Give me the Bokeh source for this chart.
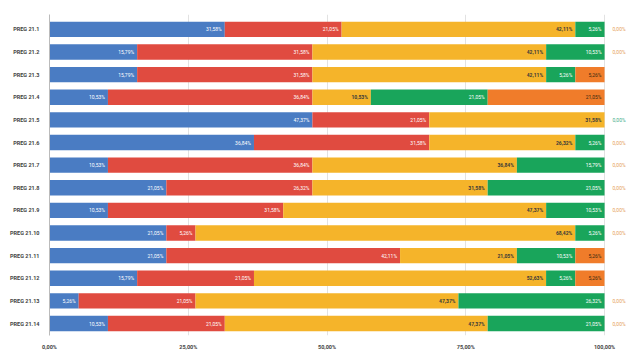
from bokeh.plotting import figure
from bokeh.models import Range1d, FixedTicker, ColumnDataSource
from bokeh.core.properties import value
from bokeh.embed import file_html
from bokeh.resources import INLINE

categories = ["PREG 21.1", "PREG 21.2", "PREG 21.3", "PREG 21.4", "PREG 21.5", "PREG 21.6", "PREG 21.7",
              "PREG 21.8", "PREG 21.9", "PREG 21.10", "PREG 21.11", "PREG 21.12", "PREG 21.13", "PREG 21.14"]
s_blue   = [31.58, 15.79, 15.79, 10.53, 47.37, 36.84, 10.53, 21.05, 10.53, 21.05, 21.05, 15.79, 5.26, 10.53]
s_red    = [21.05, 31.58, 31.58, 36.84, 21.05, 31.58, 36.84, 26.32, 31.58, 5.26, 42.11, 21.05, 21.05, 21.05]
s_yellow = [42.11, 42.11, 42.11, 10.53, 31.58, 26.32, 36.84, 31.58, 47.37, 68.42, 21.05, 52.63, 47.37, 47.37]
s_green  = [5.26, 10.53, 5.26, 21.05, 0.00, 5.26, 15.79, 21.05, 10.53, 5.26, 10.53, 5.26, 26.32, 21.05]
s_orange = [0.00, 0.00, 5.26, 21.05, 0.00, 0.00, 0.00, 0.00, 0.00, 0.00, 5.26, 5.26, 0.00, 0.00]
x_ticks = [0, 25, 50, 75, 100]
x_tick_labels = ["0,00%", "25,00%", "50,00%", "75,00%", "100,00%"]

series = [s_blue, s_red, s_yellow, s_green, s_orange]
colors = ["#4A7CC3", "#E04B40", "#F5B42A", "#19A55B", "#F07C2A"]
text_colors = ["#ffffff", "#ffffff", "#3a3a3a", "#ffffff", "#3a2a10"]

def fmt(v):
    return ("%.2f" % v).replace(".", ",") + "%"

p = figure(width=640, height=353, output_backend="svg", toolbar_location=None,
           x_range=Range1d(0, 105.76), y_range=Range1d(13.53, -0.66),
           min_border_left=49, min_border_right=4, min_border_top=14, min_border_bottom=18)
p.outline_line_color = None
p.background_fill_color = "white"
p.border_fill_color = "white"

ys = list(range(len(categories)))
left = [0.0] * len(categories)
for si, (vals, col) in enumerate(zip(series, colors)):
    right = [l + v for l, v in zip(left, vals)]
    src = ColumnDataSource(dict(y=ys, left=left, right=right))
    p.hbar(y="y", left="left", right="right", height=0.68, color=col, line_color=None, source=src)
    lx, ly, lt = [], [], []
    for i, v in enumerate(vals):
        if v > 0:
            lx.append(right[i]); ly.append(i); lt.append(fmt(v))
    p.text(x=lx, y=ly, text=lt, text_align="right", text_baseline="middle", x_offset=-3,
           text_font=value("Roboto"), text_font_size="5px", text_color=text_colors[si],
           text_font_style="bold" if si == 2 else "normal")
    left = right

# zero labels outside bars
zx, zy, zt, zc = [], [], [], []
for i in range(len(categories)):
    if s_orange[i] == 0:
        zx.append(100); zy.append(i); zt.append(fmt(0))
        zc.append("#3FAE8A" if s_green[i] == 0 else "#E6A25A")
p.text(x=zx, y=zy, text=zt, text_color=zc, text_align="left", text_baseline="middle", x_offset=8,
       text_font=value("Roboto"), text_font_size="5px")

p.xaxis.ticker = FixedTicker(ticks=x_ticks)
p.xaxis.major_label_overrides = {t: l for t, l in zip(x_ticks, x_tick_labels)}
p.xaxis.axis_line_color = None
p.xaxis.major_tick_line_color = None
p.xaxis.minor_tick_line_color = None
p.xaxis.major_label_text_font = "Roboto"
p.xaxis.major_label_text_font_size = "5.5px"
p.xaxis.major_label_text_font_style = "bold"
p.xaxis.major_label_text_color = "#444444"
p.xaxis.major_label_standoff = 2

p.yaxis.ticker = FixedTicker(ticks=ys)
p.yaxis.major_label_overrides = {i: c for i, c in enumerate(categories)}
p.yaxis.axis_line_color = "#bbbbbb"
p.yaxis.major_tick_line_color = None
p.yaxis.minor_tick_line_color = None
p.yaxis.major_label_text_font = "Roboto"
p.yaxis.major_label_text_font_size = "5.5px"
p.yaxis.major_label_text_font_style = "bold"
p.yaxis.major_label_text_color = "#444444"
p.yaxis.major_label_standoff = 4

p.xgrid.grid_line_color = "#e2e2e2"
p.ygrid.grid_line_color = None

open("out.html", "w").write(file_html(p, INLINE))
